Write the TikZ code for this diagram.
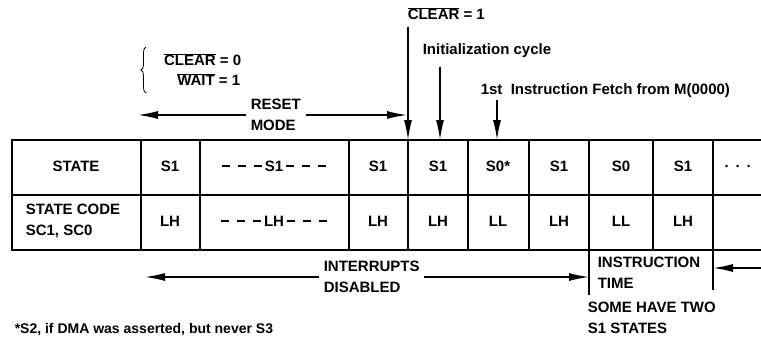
\documentclass[tikz,border=0pt]{standalone}
\usepackage{fontspec}
\setmainfont{Liberation Sans}
\usetikzlibrary{arrows.meta,decorations.pathreplacing,positioning}
\tikzset{every picture/.style={line width=1.5pt}}
\tikzset{
  txt/.style={font=\fontsize{15}{21}\selectfont\bfseries, inner sep=0pt},
  cell/.style={txt, anchor=center},
  tabline/.style={line width=2pt},
  arr/.style={-{Latex[length=20pt,width=8pt]}},
}
\newcommand{\dashbit}{\rule[4.5pt]{8pt}{1.4pt}}
\newcommand{\dashrun}{\dashbit\hspace{8pt}\dashbit\hspace{8pt}\dashbit}

\begin{document}
\begin{tikzpicture}[x=1pt,y=-1pt]
    \useasboundingbox (0,0) rectangle (761,337);
    % Table
    \draw[tabline] (761,140) -- (12,140) -- (12,250) -- (761,250);
    \draw[tabline] (12,195) -- (761,195);
    \draw[tabline] (141,140) -- (141,250) (200,140) -- (200,250)
        (349,140) -- (349,250) (408,140) -- (408,250)
        (468,140) -- (468,250) (529,140) -- (529,250)
        (589,140) -- (589,295) (653,140) -- (653,250)
        (713,140) -- (713,290);
    % Row: state
    \node[cell] (st) at (76,166) {STATE};
    \node[cell] (s1a) at (170,166) {S1};
    \node[cell] (s1b) at (274,166) {\dashrun\hspace{3pt}S1\hspace{3pt}\dashrun};
    \node[cell] (s1c) at (378,166) {S1};
    \node[cell] (s1d) at (438,166) {S1};
    \node[cell] (s0a) at (498,166) {S0*};
    \node[cell] (s1e) at (559,166) {S1};
    \node[cell] (s0b) at (621,166) {S0};
    \node[cell] (s1f) at (683,166) {S1};
    \node[cell] (more) at (738,168) {·\hspace{6pt}·\hspace{6pt}·};
    % Row: state code
    \node[cell, align=left, anchor=west] (code) at (25,221) {STATE CODE\\SC1, SC0};
    \node[cell] (lha) at (170,221) {LH};
    \node[cell] (lhb) at (274,221) {\dashrun\hspace{3pt}LH\hspace{3pt}\dashrun};
    \node[cell] (lhc) at (378,221) {LH};
    \node[cell] (lhd) at (438,221) {LH};
    \node[cell] (lla) at (498,221) {LL};
    \node[cell] (lhe) at (559,221) {LH};
    \node[cell] (llb) at (621,221) {LL};
    \node[cell] (lhf) at (683,221) {LH};
    % Reset conditions
    \node[txt, anchor=base east] (clr0) at (242,66) {$\overline{\mbox{CLEAR}}$ = 0};
    \node[txt, anchor=base east] (wait) at (241,86) {$\overline{\mbox{WAIT}}$ = 1};
    \draw[decorate, decoration={brace, amplitude=5pt}, line width=0.8pt] (146,93) -- (146,47);
    \node[txt, align=left, anchor=west, inner xsep=4pt] (rst) at (246,115) {RESET\\MODE};
    \coordinate (rstL) at (138,115);
    \coordinate (rstR) at (407,115);
    \draw[arr] (rst.west) -- (rstL);
    \draw[arr] (rst.east) -- (rstR);
    % Markers above the table
    \node[txt, anchor=base west] (clr1) at (407,20) {$\overline{\mbox{CLEAR}}$ = 1};
    \node[txt, anchor=base west] (init) at (422,55) {Initialization cycle};
    \node[txt, anchor=base west] (fetch) at (480,95) {1st\ \ Instruction Fetch from M(0000)};
    \coordinate (clrA) at (408,27);
    \coordinate (clrB) at (408,140);
    \coordinate (initA) at (440,67);
    \coordinate (initB) at (440,140);
    \coordinate (fetchA) at (497,100);
    \coordinate (fetchB) at (497,140);
    \draw[arr] (clrA) -- (clrB);
    \draw[arr] (initA) -- (initB);
    \draw[arr] (fetchA) -- (fetchB);
    % Below the table
    \node[txt, align=left, anchor=west, inner xsep=4pt] (intr) at (319,277) {INTERRUPTS\\DISABLED};
    \coordinate (intrL) at (145,277);
    \coordinate (intrR) at (589,277);
    \draw[arr] (intr.west) -- (intrL);
    \draw[arr] (intr.east) -- (intrR);
    \node[txt, align=left, anchor=west] (itime) at (597,273) {INSTRUCTION\\TIME};
    \coordinate (itR) at (761,268);
    \coordinate (itL) at (713,268);
    \draw[arr] (itR) -- (itL);
    \node[txt, align=left, anchor=west] (two) at (587,318) {SOME HAVE TWO\\S1 STATES};
    % Footnote
    \node[txt, font=\fontsize{14}{18}\selectfont\bfseries, anchor=base west] (note) at (14,333) {*S2, if DMA was asserted, but never S3};
\end{tikzpicture}
\end{document}
